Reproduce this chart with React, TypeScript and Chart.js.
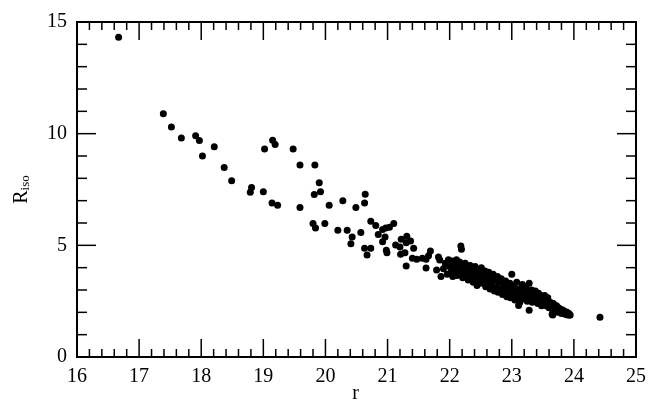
import React, { useEffect, useRef } from "react";
import { Chart, registerables } from "chart.js";

Chart.register(...registerables);

// r magnitude (x) and R_iso (y) for each galaxy
const rValues: number[] = [
  16.67,
  17.39, 17.52, 17.68, 17.91, 17.97, 18.02, 18.21, 18.37, 18.49, 18.81, 18.79, 19.0, 19.02, 19.15, 19.19,
  19.14, 19.23, 19.48, 19.59, 19.83, 19.9, 19.82, 19.92, 19.59, 20.06, 20.28, 20.49, 19.8, 19.84, 19.99,
  20.2, 20.35, 20.43,
  20.64, 20.63, 20.41, 20.57, 20.73, 20.81, 20.63, 20.73, 20.67, 20.85, 20.92, 20.97, 21.03, 21.1, 20.92,
  20.96, 20.98, 20.99, 21.13, 21.2, 21.22, 21.31, 21.37, 21.3, 21.21, 21.28, 21.42, 21.4, 21.47, 21.56,
  21.62, 21.69, 21.66, 21.3, 21.62, 21.82, 21.84, 21.79, 21.86, 22.18, 22.19,
  21.9, 21.93, 21.96, 21.98, 22.0, 22.02, 22.04, 22.05, 22.07, 22.09, 22.11, 22.12, 22.14, 22.16, 22.18, 22.2,
  22.21, 22.23, 22.25, 22.26, 22.28, 22.3, 22.31, 22.33, 22.35, 22.37, 22.38, 22.4,
  22.41, 22.43, 22.44, 22.46, 22.48, 22.5, 22.51, 22.53, 22.55, 22.57, 22.58, 22.6,
  22.61, 22.63, 22.65, 22.66, 22.68, 22.7, 22.72, 22.73, 22.75, 22.77, 22.78, 22.8,
  22.82, 22.83, 22.85, 22.87, 22.88, 22.9, 22.92, 22.93, 22.95, 22.97, 22.98, 23.0,
  23.02, 23.03, 23.05, 23.07, 23.08, 23.1, 23.12, 23.13, 23.15, 23.17, 23.18, 23.2,
  23.22, 23.23, 23.25, 23.27, 23.28, 23.3, 23.32, 23.33, 23.35, 23.37, 23.38, 23.4,
  23.42, 23.43, 23.45, 23.47, 23.48, 23.5, 23.52, 23.53, 23.55, 23.57, 23.58, 23.6,
  23.62, 23.63, 23.65, 23.67, 23.68, 23.7, 23.72, 23.73, 23.75, 23.77, 23.78, 23.8,
  23.82, 23.84, 23.85, 23.87, 23.89, 23.9, 23.92, 23.94,
  23.0, 23.11, 23.28, 23.65, 24.42, 23.93, 23.66,
];

const rIsoValues: number[] = [
  14.32,
  10.89, 10.3, 9.81, 9.91, 9.69, 9.0, 9.41, 8.49, 7.89, 7.59, 7.38, 7.4, 9.31, 9.71, 9.51,
  6.89, 6.79, 9.31, 8.6, 8.6, 7.8, 7.28, 7.4, 6.69, 6.79, 7.0, 6.69, 5.98, 5.78, 5.98,
  5.68, 5.68, 5.37,
  7.29, 6.89, 5.07, 5.58, 6.08, 5.89, 4.87, 4.87, 4.57, 5.49, 5.71, 5.78, 5.81, 5.98, 5.16,
  5.37, 4.78, 4.67, 5.02, 4.93, 5.27, 5.41, 5.19, 5.12, 4.6, 4.67, 4.87, 4.42, 4.38, 4.42,
  4.38, 4.75, 4.53, 4.08, 3.98, 4.48, 4.34, 3.89, 3.6, 4.97, 4.82,
  3.95, 4.2, 3.7, 4.35, 4.05, 3.8, 4.3, 3.6, 4.15, 3.9, 4.35, 3.65, 4.0, 4.25, 3.75, 4.1,
  3.55, 3.9, 4.2, 3.7, 4.05, 3.45, 3.85, 4.1, 3.6, 3.95, 3.35, 3.75,
  4.05, 3.5, 3.2, 3.85, 3.6, 3.3, 4.0, 3.7, 3.45, 3.85, 3.15, 3.6,
  3.35, 3.8, 3.05, 3.55, 3.25, 3.7, 2.95, 3.45, 3.15, 3.6, 2.9, 3.35,
  3.05, 3.5, 2.8, 3.25, 2.95, 3.4, 2.7, 3.15, 2.9, 3.3, 2.65, 3.05,
  2.8, 3.2, 2.55, 2.95, 3.35, 2.7, 3.05, 2.45, 2.85, 3.25, 2.6, 3.0,
  2.75, 3.15, 2.5, 2.9, 3.3, 2.65, 3.0, 2.45, 2.8, 2.55, 2.95, 2.7,
  2.4, 2.85, 2.55, 2.75, 2.3, 2.6, 2.45, 2.75, 2.3, 2.5, 2.65, 2.2,
  2.45, 2.3, 2.15, 2.4, 2.25, 2.1, 2.3, 2.0, 2.2, 2.05, 2.15, 1.95,
  2.1, 1.95, 2.05, 1.9, 2.0, 1.88, 1.95, 1.88,
  3.7, 2.31, 2.09, 1.91, 1.78, 1.88, 1.88,
];

const xMin = 16;
const xMax = 25;
const xMajorStep = 1;
const xMinorStep = 0.2;
const yMin = 0;
const yMax = 15;
const yMajorStep = 5;
const yMinorStep = 1;
const xTitle = "r";
const yTitleMain = "R";
const yTitleSub = "iso";

const FONT = "'Liberation Serif', 'Times New Roman', serif";

const framePlugin = {
  id: "frameTicks",
  afterDraw(chart: any) {
    const ctx = chart.ctx as CanvasRenderingContext2D;
    const { left, right, top, bottom } = chart.chartArea;
    const xs = chart.scales.x;
    const ys = chart.scales.y;
    ctx.save();
    ctx.strokeStyle = "#000";
    ctx.lineWidth = 2;
    ctx.strokeRect(left, top, right - left, bottom - top);
    ctx.lineWidth = 1.5;
    const line = (x1: number, y1: number, x2: number, y2: number) => {
      ctx.beginPath();
      ctx.moveTo(x1, y1);
      ctx.lineTo(x2, y2);
      ctx.stroke();
    };
    const nx = Math.round((xMax - xMin) / xMinorStep);
    const perMajX = Math.round(xMajorStep / xMinorStep);
    for (let i = 0; i <= nx; i++) {
      const v = xMin + i * xMinorStep;
      const px = xs.getPixelForValue(v);
      const len = i % perMajX === 0 ? 18 : 8;
      line(px, bottom, px, bottom - len);
      line(px, top, px, top + len);
    }
    const ny = Math.round((yMax - yMin) / yMinorStep);
    const perMajY = Math.round(yMajorStep / yMinorStep);
    for (let i = 0; i <= ny; i++) {
      const v = yMin + i * yMinorStep;
      const py = ys.getPixelForValue(v);
      const len = i % perMajY === 0 ? 19 : 10;
      line(left, py, left + len, py);
      line(right, py, right - len, py);
    }
    // axis titles
    ctx.fillStyle = "#000";
    ctx.font = `20px ${FONT}`;
    ctx.textAlign = "center";
    ctx.textBaseline = "alphabetic";
    ctx.fillText(xTitle, (left + right) / 2 - 1, 399);

    const cy = (top + bottom) / 2;
    ctx.translate(27, cy);
    ctx.rotate(-Math.PI / 2);
    ctx.font = `20px ${FONT}`;
    const wR = ctx.measureText(yTitleMain).width;
    ctx.font = `13px ${FONT}`;
    const wS = ctx.measureText(yTitleSub).width;
    const start = -(wR + wS) / 2;
    ctx.textAlign = "left";
    ctx.font = `20px ${FONT}`;
    ctx.fillText(yTitleMain, start, 0);
    ctx.font = `13px ${FONT}`;
    ctx.fillText(yTitleSub, start + wR, 2);
    ctx.restore();
  },
};

export default function App() {
  const ref = useRef<HTMLCanvasElement>(null);
  useEffect(() => {
    if (!ref.current) return;
    const points = rValues.map((x, i) => ({ x, y: rIsoValues[i] }));
    const chart = new Chart(ref.current, {
      type: "scatter",
      data: {
        datasets: [
          {
            data: points,
            backgroundColor: "#000",
            borderColor: "#000",
            borderWidth: 0,
            pointRadius: 3.5,
            pointHoverRadius: 3.5,
          },
        ],
      },
      options: {
        animation: false,
        responsive: false,
        maintainAspectRatio: false,
        layout: { padding: { top: 19, right: 12, left: 0, bottom: 0 } },
        plugins: { legend: { display: false }, tooltip: { enabled: false } },
        scales: {
          x: {
            type: "linear",
            min: xMin,
            max: xMax,
            grid: { display: false, drawTicks: false },
            border: { display: false },
            ticks: {
              stepSize: xMajorStep,
              color: "#000",
              font: { family: FONT, size: 20 },
              padding: 8,
              maxRotation: 0,
            },
            afterFit: (s: any) => {
              s.height = 43;
            },
          },
          y: {
            type: "linear",
            min: yMin,
            max: yMax,
            grid: { display: false, drawTicks: false },
            border: { display: false },
            ticks: {
              stepSize: yMajorStep,
              color: "#000",
              font: { family: FONT, size: 20 },
              padding: 10,
            },
            afterFit: (s: any) => {
              s.width = 77;
            },
          },
        },
      },
      plugins: [framePlugin],
    });
    return () => chart.destroy();
  }, []);
  return (
    <div style={{ position: "absolute", left: 0, top: 0, width: 654, height: 400, background: "#fff" }}>
      <canvas ref={ref} width={654} height={400} />
    </div>
  );
}
